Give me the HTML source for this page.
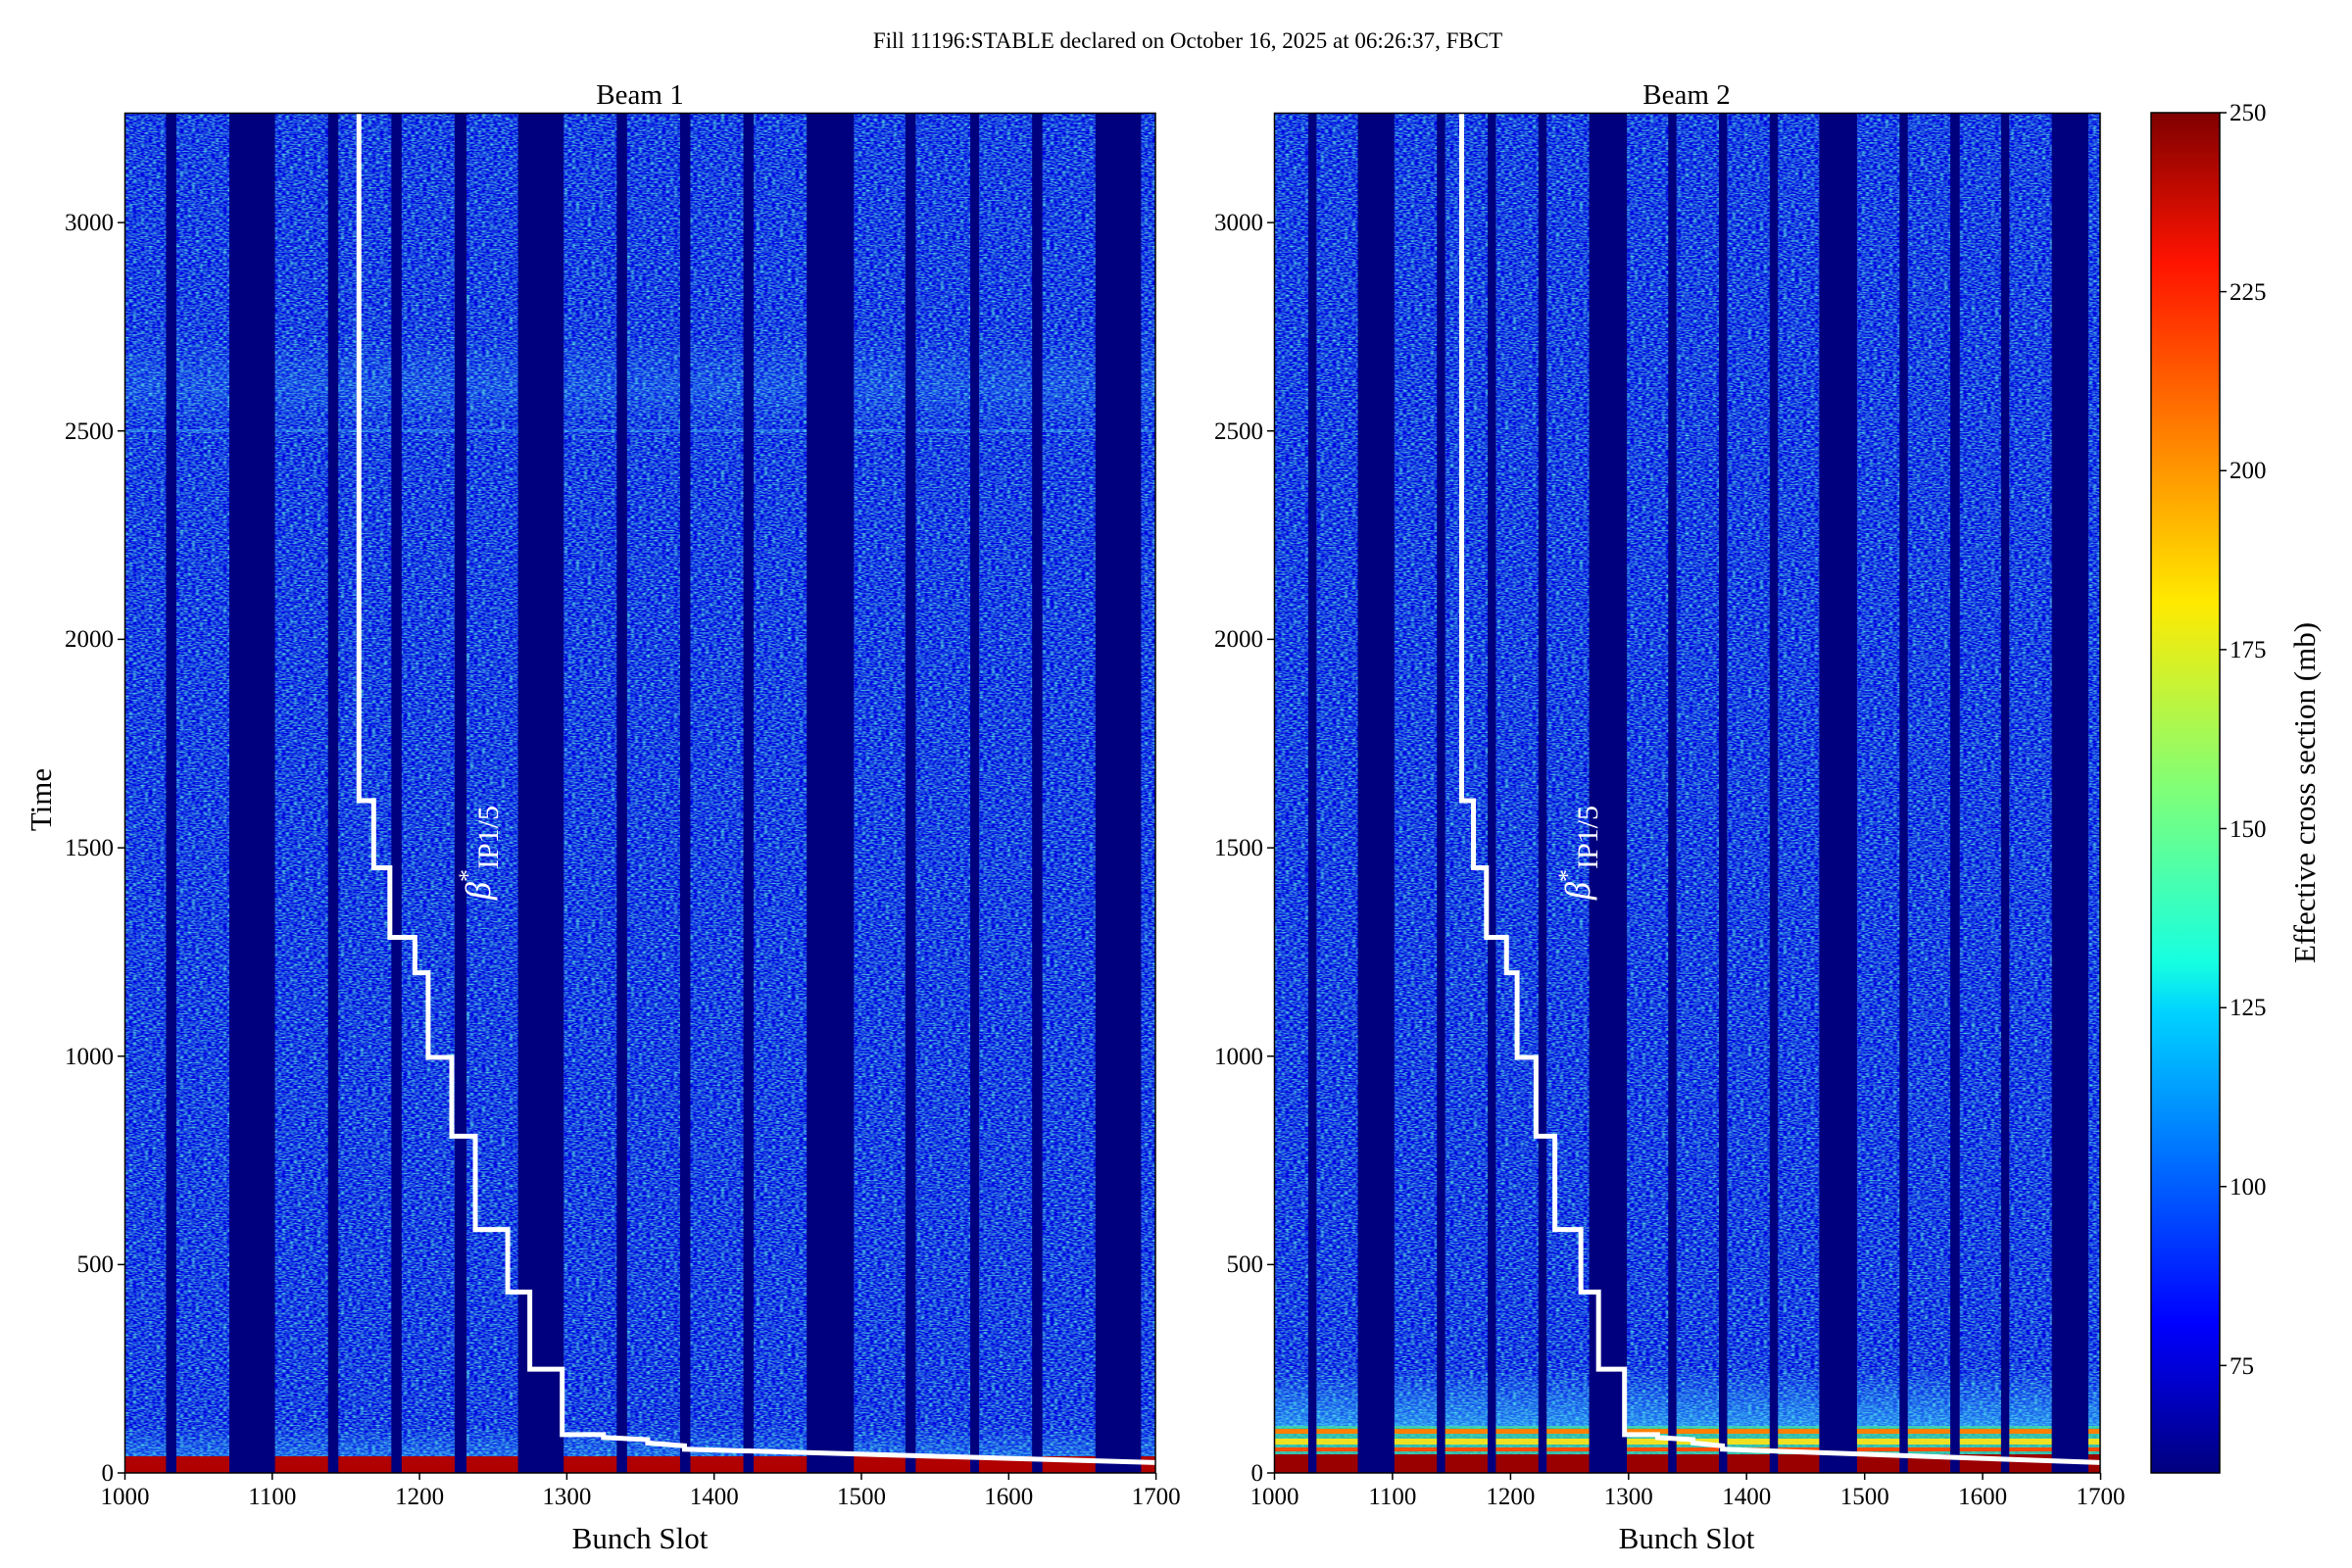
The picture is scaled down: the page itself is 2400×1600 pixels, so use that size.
<!DOCTYPE html>
<html><head><meta charset="utf-8"><style>
html,body{margin:0;padding:0;background:#fff}
svg{display:block}
text{font-family:"Liberation Serif","DejaVu Serif",serif;fill:#000}
</style></head><body>
<svg width="2400" height="1600" viewBox="0 0 2400 1600" xmlns="http://www.w3.org/2000/svg">
<defs>
<filter id="nz" x="0" y="0" width="100%" height="100%" color-interpolation-filters="sRGB">
<feTurbulence type="fractalNoise" baseFrequency="0.25 0.7" numOctaves="1" seed="3"/>
<feColorMatrix type="matrix" values="0.8 0 0 0 -0.3  1.9 0 0 0 -0.68  0 0 0 0 0.88  0 0 0 0 1"/>
</filter>
<linearGradient id="jet" x1="0" y1="1" x2="0" y2="0">
<stop offset="0" stop-color="#00007f"/><stop offset="0.11" stop-color="#0000ff"/>
<stop offset="0.34" stop-color="#00d4ff"/><stop offset="0.375" stop-color="#16ffe1"/>
<stop offset="0.5" stop-color="#7dff7a"/><stop offset="0.64" stop-color="#ffea00"/>
<stop offset="0.89" stop-color="#ff1300"/><stop offset="1" stop-color="#7f0000"/>
</linearGradient>
<linearGradient id="cy" x1="0" y1="0" x2="0" y2="1">
<stop offset="0" stop-color="#40e0ff" stop-opacity="0"/><stop offset="1" stop-color="#40e0ff" stop-opacity="0.55"/>
</linearGradient>
<linearGradient id="glow" x1="0" y1="0" x2="0" y2="1">
<stop offset="0" stop-color="#40d0ff" stop-opacity="0"/><stop offset="0.6" stop-color="#40d0ff" stop-opacity="0.18"/><stop offset="1" stop-color="#40d0ff" stop-opacity="0"/>
</linearGradient>
<clipPath id="c1"><rect x="127" y="115" width="1052" height="1388"/></clipPath>
<clipPath id="c2"><rect x="1300" y="115" width="843" height="1388"/></clipPath>
</defs>

<text x="1212" y="49" font-size="23" text-anchor="middle">Fill 11196:STABLE declared on October 16, 2025 at 06:26:37, FBCT</text>

<g clip-path="url(#c1)">
<rect x="127" y="115" width="1052" height="1388" filter="url(#nz)"/>
<rect x="127" y="340" width="1052" height="95" fill="url(#glow)"/>
<rect x="127" y="438" width="1052" height="3" fill="#50e0ff" opacity="0.3"/>
<rect x="127" y="1455" width="1052" height="33" fill="url(#cy)" opacity="0.6"/>
<rect x="127" y="1486" width="1052" height="17" fill="#b00000"/>
<g transform="translate(-1375.7,1503) scale(1.503,-0.4253)" fill="#00007f">
<rect x="1028" y="0" width="7" height="3300"/><rect x="1071" y="0" width="31" height="3300"/>
<rect x="1138" y="0" width="7" height="3300"/><rect x="1181" y="0" width="7" height="3300"/>
<rect x="1224" y="0" width="8" height="3300"/><rect x="1267" y="0" width="31" height="3300"/>
<rect x="1334" y="0" width="7" height="3300"/><rect x="1377" y="0" width="7" height="3300"/>
<rect x="1420" y="0" width="7" height="3300"/><rect x="1463" y="0" width="32" height="3300"/>
<rect x="1530" y="0" width="7" height="3300"/><rect x="1574" y="0" width="6" height="3300"/>
<rect x="1616" y="0" width="7" height="3300"/><rect x="1659" y="0" width="31" height="3300"/>
<polyline fill="none" stroke="#fff" stroke-width="5" vector-effect="non-scaling-stroke" points="1159,3300 1159,1613 1169,1613 1169,1452 1180,1452 1180,1285 1197,1285 1197,1200 1206,1200 1206,997 1222,997 1222,808 1238,808 1238,584 1260,584 1260,434 1275,434 1275,249 1297,249 1297,92 1325,92 1325,85 1355,80 1355,72 1380,65 1380,57 1700,25"/>
</g>
</g>
<text transform="translate(500,870) rotate(-90)" font-size="36" text-anchor="middle" style="fill:#fff"><tspan font-style="italic">β</tspan><tspan dy="-14" font-size="26">*</tspan><tspan dy="22" font-size="30">IP1/5</tspan></text>
<rect x="127.5" y="115.5" width="1051.5" height="1387.5" fill="none" stroke="#000" stroke-width="1.5"/>

<g clip-path="url(#c2)">
<rect x="1300" y="115" width="843" height="1388" filter="url(#nz)"/>
<rect x="1300" y="1395" width="843" height="62" fill="url(#cy)"/>
<rect x="1300" y="1455" width="843" height="29" fill="#40e0a0" opacity="0.8"/>
<rect x="1300" y="1458" width="843" height="5" fill="#ff8000"/>
<rect x="1300" y="1468" width="843" height="6" fill="#f0e020"/>
<rect x="1300" y="1477" width="843" height="4" fill="#ff5000"/>
<rect x="1300" y="1484" width="843" height="19" fill="#9a0000"/>
<g transform="translate(95.7,1503) scale(1.2043,-0.4253)" fill="#00007f">
<rect x="1029" y="0" width="7" height="3300"/><rect x="1071" y="0" width="31" height="3300"/>
<rect x="1138" y="0" width="7" height="3300"/><rect x="1181" y="0" width="7" height="3300"/>
<rect x="1224" y="0" width="7" height="3300"/><rect x="1267" y="0" width="32" height="3300"/>
<rect x="1334" y="0" width="7" height="3300"/><rect x="1377" y="0" width="7" height="3300"/>
<rect x="1420" y="0" width="7" height="3300"/><rect x="1462" y="0" width="32" height="3300"/>
<rect x="1530" y="0" width="7" height="3300"/><rect x="1573" y="0" width="8" height="3300"/>
<rect x="1616" y="0" width="7" height="3300"/><rect x="1659" y="0" width="31" height="3300"/>
<polyline fill="none" stroke="#fff" stroke-width="5" vector-effect="non-scaling-stroke" points="1159,3300 1159,1613 1169,1613 1169,1452 1180,1452 1180,1285 1197,1285 1197,1200 1206,1200 1206,997 1222,997 1222,808 1238,808 1238,584 1260,584 1260,434 1275,434 1275,249 1297,249 1297,92 1325,92 1325,85 1355,80 1355,72 1380,65 1380,57 1700,25"/>
</g>
</g>
<text transform="translate(1622,870) rotate(-90)" font-size="36" text-anchor="middle" style="fill:#fff"><tspan font-style="italic">β</tspan><tspan dy="-14" font-size="26">*</tspan><tspan dy="22" font-size="30">IP1/5</tspan></text>
<rect x="1300.5" y="115.5" width="842.5" height="1387.5" fill="none" stroke="#000" stroke-width="1.5"/>

<text x="653" y="106" font-size="29" text-anchor="middle">Beam 1</text>
<text x="1721" y="106" font-size="29" text-anchor="middle">Beam 2</text>
<text x="653" y="1580" font-size="31" text-anchor="middle">Bunch Slot</text>
<text x="1721" y="1580" font-size="31" text-anchor="middle">Bunch Slot</text>
<text transform="translate(52,816) rotate(-90)" font-size="31" text-anchor="middle">Time</text>

<g stroke="#000" stroke-width="1.5">
<path d="M127.5 1503v7M277.8 1503v7M428.1 1503v7M578.4 1503v7M728.7 1503v7M879 1503v7M1029.3 1503v7M1179.6 1503v7"/>
<path d="M1300.5 1503v7M1420.9 1503v7M1541.4 1503v7M1661.8 1503v7M1782.2 1503v7M1902.7 1503v7M2023.1 1503v7M2143.5 1503v7"/>
<path d="M127 1503h-7M127 1290.4h-7M127 1077.7h-7M127 865.1h-7M127 652.4h-7M127 439.8h-7M127 227.1h-7"/>
<path d="M1300 1503h-7M1300 1290.4h-7M1300 1077.7h-7M1300 865.1h-7M1300 652.4h-7M1300 439.8h-7M1300 227.1h-7"/>
</g>
<g font-size="25" text-anchor="middle">
<text x="127.5" y="1535">1000</text><text x="277.8" y="1535">1100</text><text x="428.1" y="1535">1200</text><text x="578.4" y="1535">1300</text><text x="728.7" y="1535">1400</text><text x="879" y="1535">1500</text><text x="1029.3" y="1535">1600</text><text x="1179.6" y="1535">1700</text>
<text x="1300.5" y="1535">1000</text><text x="1420.9" y="1535">1100</text><text x="1541.4" y="1535">1200</text><text x="1661.8" y="1535">1300</text><text x="1782.2" y="1535">1400</text><text x="1902.7" y="1535">1500</text><text x="2023.1" y="1535">1600</text><text x="2143.5" y="1535">1700</text>
</g>
<g font-size="25" text-anchor="end">
<text x="116" y="1511">0</text><text x="116" y="1298">500</text><text x="116" y="1086">1000</text><text x="116" y="873">1500</text><text x="116" y="660">2000</text><text x="116" y="448">2500</text><text x="116" y="235">3000</text>
<text x="1289" y="1511">0</text><text x="1289" y="1298">500</text><text x="1289" y="1086">1000</text><text x="1289" y="873">1500</text><text x="1289" y="660">2000</text><text x="1289" y="448">2500</text><text x="1289" y="235">3000</text>
</g>

<rect x="2195" y="115" width="70" height="1388" fill="url(#jet)" stroke="#000" stroke-width="1.5"/>
<g stroke="#000" stroke-width="1.5">
<path d="M2265 1393.4h7M2265 1210.8h7M2265 1028.2h7M2265 845.5h7M2265 662.9h7M2265 480.3h7M2265 297.6h7M2265 115h7"/>
</g>
<g font-size="25">
<text x="2275" y="1402">75</text><text x="2275" y="1219">100</text><text x="2275" y="1036">125</text><text x="2275" y="854">150</text><text x="2275" y="671">175</text><text x="2275" y="488">200</text><text x="2275" y="306">225</text><text x="2275" y="123">250</text>
</g>
<text transform="translate(2362,809) rotate(-90)" font-size="31" text-anchor="middle">Effective cross section (mb)</text>
</svg>
</body></html>
